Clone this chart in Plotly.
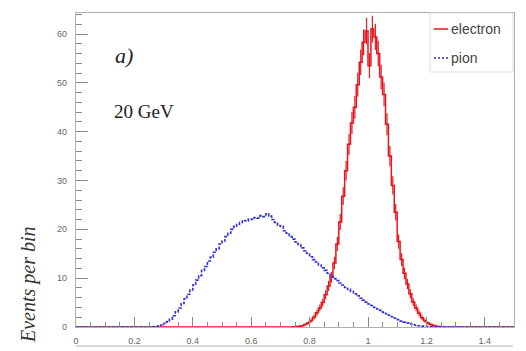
import numpy as np
import plotly.graph_objects as go

# Histogram binning
bin_width = 0.01
x_min, x_max = 0.0, 1.5

# Electron counts per bin, starting at the bin whose lower edge is electron_first_bin
electron_first_bin = 0.74
electron_counts = [
    0.05, 0.1, 0.15, 0.25, 0.5, 0.8, 1.3, 2.0, 2.9, 3.9,
    5.0, 6.6, 8.4, 10.2, 13.1, 17.0, 21.5, 26.8, 32.0, 37.4,
    41.8, 45.0, 49.6, 54.2, 58.3, 60.6, 53.5, 61.0, 59.4, 56.0,
    51.2, 47.6, 41.5, 35.0, 29.0, 23.5, 17.5, 13.8, 11.0, 8.8,
    6.8, 5.1, 3.9, 2.8, 1.9, 1.3, 0.8, 0.5, 0.3, 0.15,
    0.08, 0.03,
]

# Pion counts per bin, starting at the bin whose lower edge is pion_first_bin
pion_first_bin = 0.26
pion_counts = [
    0.05, 0.1, 0.25, 0.4, 0.7, 1.1, 1.6, 2.3, 3.1, 3.9,
    4.8, 5.8, 6.7, 7.6, 8.6, 9.6, 10.5, 11.6, 12.4, 13.5,
    14.3, 15.3, 16.0, 17.0, 17.6, 18.5, 19.2, 20.0, 20.6, 21.0,
    21.4, 21.8, 21.7, 22.1, 22.0, 22.4, 22.3, 22.8, 22.6, 23.2,
    22.7, 22.0, 21.4, 20.8, 20.6, 19.7, 19.2, 18.5, 18.0, 17.4,
    16.9, 16.2, 15.6, 15.1, 14.4, 13.8, 13.3, 12.7, 12.1, 11.6,
    11.0, 10.4, 9.9, 9.5, 9.0, 8.6, 8.1, 7.7, 7.3, 6.8,
    6.4, 5.9, 5.5, 5.1, 4.7, 4.4, 4.0, 3.7, 3.4, 3.0,
    2.7, 2.4, 2.1, 1.8, 1.5, 1.2, 1.0, 0.8, 0.6, 0.45,
    0.35, 0.25, 0.18, 0.12, 0.08, 0.05, 0.03,
]

# Statistical error scale for the electron histogram (normalised Poisson errors)
electron_error_scale = 0.35

x_tick_values = [0, 0.2, 0.4, 0.6, 0.8, 1.0, 1.2, 1.4]
x_tick_labels = ["0", "0.2", "0.4", "0.6", "0.8", "1", "1.2", "1.4"]
y_tick_values = [0, 10, 20, 30, 40, 50, 60]
y_tick_labels = ["0", "10", "20", "30", "40", "50", "60"]
y_max = 64.3

series_names = ["electron", "pion"]
electron_color = "#e8141c"
pion_color = "#3030d8"

# ---------------------------------------------------------------------------
n_bins = int(round((x_max - x_min) / bin_width))
edges = x_min + bin_width * np.arange(n_bins + 1)
centers = 0.5 * (edges[:-1] + edges[1:])


def full_hist(first_edge, values):
    h = np.zeros(n_bins)
    i0 = int(round((first_edge - x_min) / bin_width))
    h[i0:i0 + len(values)] = values
    return h


h_el = full_hist(electron_first_bin, electron_counts)
h_pi = full_hist(pion_first_bin, pion_counts)
err_el = electron_error_scale * np.sqrt(h_el)

W, H = 526, 351
L, R, T, B = 76, 12, 13, 24
PW, PH = W - L - R, H - T - B


def px(x):
    return (x - L) / PW


def py(y):
    return (H - B - y) / PH


fig = go.Figure()

fig.add_trace(go.Scatter(
    x=edges, y=np.append(h_el, h_el[-1]), mode="lines", line_shape="hv",
    line=dict(color=electron_color, width=1.5), name=series_names[0],
    showlegend=False, hoverinfo="skip"))

nz = h_el > 0
fig.add_trace(go.Scatter(
    x=centers[nz], y=h_el[nz], mode="markers",
    marker=dict(size=1, color=electron_color),
    error_y=dict(type="data", array=err_el[nz], visible=True,
                 color=electron_color, thickness=1.2, width=0),
    showlegend=False, hoverinfo="skip"))

fig.add_trace(go.Scatter(
    x=edges, y=np.append(h_pi, h_pi[-1]), mode="lines", line_shape="hv",
    line=dict(color=pion_color, width=1.6, dash="3px,1.5px"), name=series_names[1],
    showlegend=False, hoverinfo="skip"))

axis_common = dict(
    showgrid=False, zeroline=False, showline=True, mirror=True,
    linecolor="#b0b0b0", linewidth=1.2, ticks="inside", tickcolor="#8a8a8a",
    tickwidth=1, tickfont=dict(family="Liberation Sans", size=9, color="#666666"),
)

fig.update_xaxes(
    range=[x_min, x_max], tickmode="array", tickvals=x_tick_values,
    ticktext=x_tick_labels, ticklen=10, ticklabelstandoff=5,
    minor=dict(ticks="inside", ticklen=5, dtick=0.05, tick0=0, tickcolor="#8a8a8a"),
    **axis_common)
fig.update_yaxes(
    range=[0, y_max], tickmode="array", tickvals=y_tick_values,
    ticktext=y_tick_labels, ticklen=12, ticklabelstandoff=6,
    minor=dict(ticks="inside", ticklen=6, dtick=2, tick0=0, tickcolor="#8a8a8a"),
    **axis_common)

shapes = []
annotations = []

# Legend box
shapes.append(dict(type="rect", xref="paper", yref="paper",
                   x0=px(430), x1=px(513), y0=py(72), y1=py(13),
                   line=dict(color="#dddddd", width=1), fillcolor="white", layer="above"))
shapes.append(dict(type="line", xref="paper", yref="paper",
                   x0=px(434), x1=px(448), y0=py(29), y1=py(29),
                   line=dict(color=electron_color, width=1.5), layer="above"))
shapes.append(dict(type="line", xref="paper", yref="paper",
                   x0=px(434), x1=px(448), y0=py(58), y1=py(58),
                   line=dict(color=pion_color, width=1.6, dash="2px,2px"), layer="above"))
for name, yy in zip(series_names, [29, 58]):
    annotations.append(dict(text=name, xref="paper", yref="paper", x=px(449), y=py(yy),
                            xanchor="left", yanchor="middle", showarrow=False,
                            font=dict(family="Liberation Sans", size=14, color="#444444")))

# Neighbouring panel frame edge below the axis
shapes.append(dict(type="line", xref="paper", yref="paper",
                   x0=px(76), x1=px(513), y0=py(346), y1=py(346),
                   line=dict(color="#cccccc", width=1.5)))

annotations.append(dict(text="a)", xref="paper", yref="paper", x=px(113), y=py(56),
                        xanchor="left", yanchor="middle", showarrow=False,
                        font=dict(family="Liberation Serif", size=22, color="#222222",
                                  style="italic")))
annotations.append(dict(text="20 GeV", xref="paper", yref="paper", x=px(112), y=py(111),
                        xanchor="left", yanchor="middle", showarrow=False,
                        font=dict(family="Liberation Serif", size=19, color="#222222")))
annotations.append(dict(text="Events per bin", xref="paper", yref="paper",
                        x=px(28), y=py(285), xanchor="center", yanchor="middle",
                        textangle=-90, showarrow=False,
                        font=dict(family="Liberation Serif", size=20, color="#333333",
                                  style="italic")))

fig.update_layout(
    width=W, height=H, margin=dict(l=L, r=R, t=T, b=B, autoexpand=False),
    paper_bgcolor="white", plot_bgcolor="white",
    shapes=shapes, annotations=annotations, showlegend=False,
)

fig.write_html("out.html")
